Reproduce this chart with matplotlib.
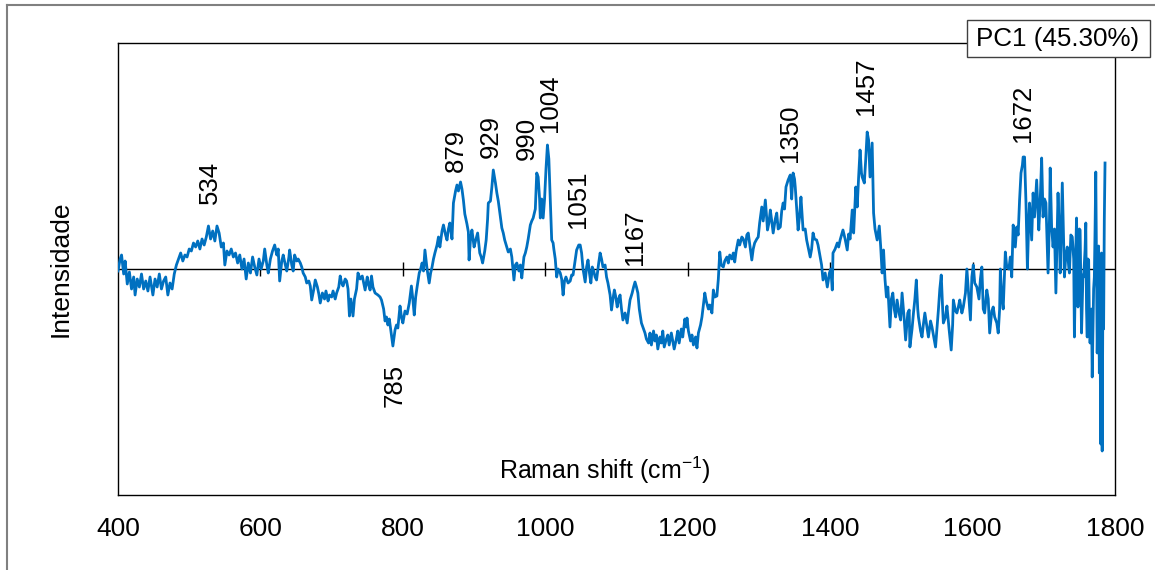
import matplotlib
matplotlib.use("Agg")
import matplotlib.pyplot as plt
from matplotlib.lines import Line2D
from matplotlib.patches import Rectangle

plt.rcParams['font.family'] = ['Liberation Sans', 'DejaVu Sans']

# Raman shift (cm-1) and PC1 loading (arbitrary units, positive up)
shift = [400,403,405,408,410,413,416,419,422,424,427,430,433,436,439,442,445,449,452,455,458,461,464,467,470,473,476,479,482,485,488,491,494,497,500,503,506,509,512,515,518,521,524,527,530,533,536,539,542,545,548,550,553,556,559,562,565,568,571,574,577,580,583,586,589,592,595,598,601,604,606,609,611,614,617,620,623,625,627,630,632,635,637,640,641,644,646,648,651,653,656,658,660,663,665,668,670,672,675,677,680,682,684,687,690,692,695,697,700,702,705,707,710,712,714,716,719,721,723,725,727,730,732,735,737,740,743,745,747,750,752,754,756,758,761,765,768,770,773,775,777,779,781,783,786,789,791,793,796,798,800,803,806,809,812,814,816,818,820,823,825,827,829,831,834,837,839,841,843,845,848,850,852,855,857,860,862,864,866,869,871,874,876,878,881,883,885,887,890,892,893,895,897,900,902,905,908,910,912,915,917,919,920,923,925,927,930,932,934,937,939,941,943,946,948,951,953,956,958,960,963,965,967,970,972,974,976,979,981,983,986,988,990,992,993,995,997,999,1001,1003,1005,1006,1008,1009,1011,1012,1014,1016,1018,1021,1023,1025,1027,1029,1032,1035,1037,1039,1041,1044,1047,1049,1051,1053,1056,1058,1060,1062,1064,1066,1068,1070,1072,1075,1077,1079,1081,1084,1086,1088,1091,1093,1095,1097,1099,1101,1103,1105,1107,1109,1112,1115,1117,1119,1122,1124,1126,1128,1130,1132,1135,1138,1140,1142,1145,1147,1149,1152,1154,1156,1158,1161,1163,1165,1167,1170,1172,1174,1177,1179,1181,1184,1186,1188,1191,1193,1196,1198,1199,1201,1204,1206,1208,1211,1213,1215,1218,1220,1222,1224,1226,1229,1231,1234,1236,1238,1241,1243,1245,1247,1250,1252,1255,1257,1259,1262,1264,1266,1268,1271,1273,1276,1278,1281,1283,1285,1288,1290,1292,1294,1297,1299,1301,1304,1306,1309,1311,1312,1314,1316,1318,1320,1323,1325,1327,1330,1332,1334,1336,1338,1341,1344,1346,1348,1350,1351,1353,1355,1357,1359,1361,1362,1365,1367,1369,1372,1374,1376,1378,1381,1383,1386,1388,1390,1393,1396,1399,1401,1403,1404,1407,1410,1412,1414,1416,1418,1421,1424,1426,1428,1431,1433,1436,1438,1440,1442,1444,1445,1448,1450,1452,1454,1456,1459,1461,1463,1466,1469,1471,1473,1475,1477,1479,1481,1484,1486,1488,1490,1492,1494,1497,1499,1501,1504,1506,1509,1511,1512,1515,1517,1519,1521,1523,1524,1527,1529,1531,1533,1536,1538,1541,1543,1546,1548,1550,1552,1554,1556,1558,1559,1562,1564,1567,1570,1572,1573,1576,1578,1580,1582,1585,1587,1590,1592,1595,1597,1599,1601,1603,1606,1609,1611,1613,1615,1617,1620,1622,1624,1627,1629,1631,1634,1636,1638,1639,1641,1643,1646,1648,1651,1653,1655,1657,1660,1662,1664,1666,1668,1670,1671,1673,1675,1677,1679,1680,1683,1685,1687,1690,1692,1693,1695,1697,1699,1701,1703,1706,1708,1709,1711,1713,1715,1717,1720,1722,1723,1726,1728,1729,1731,1733,1735,1736,1738,1740,1742,1743,1745,1746,1748,1750,1751,1753,1755,1756,1758,1759,1760,1761,1762,1763,1764,1765,1767,1768,1770,1771,1772,1773,1774,1775,1776,1777,1778,1779,1780,1781,1782,1783,1784,1785,1786]
intensity = [-2,10,14,-5,8,-15,-3,-20,-8,-26,-10,-18,-5,-20,-12,-22,-8,-26,-10,-18,-5,-20,-12,-8,-26,-14,-20,-5,4,10,16,8,14,12,20,18,26,22,28,20,30,24,32,43,30,38,28,43,36,22,26,4,18,14,20,12,16,6,14,0,10,-10,6,-4,12,2,-6,10,0,8,20,4,-4,10,18,24,14,20,-12,8,14,4,-2,12,19,4,-2,14,8,10,6,2,-4,-8,-14,-12,-17,-31,-20,-11,-18,-25,-34,-24,-30,-22,-32,-26,-28,-22,-30,-24,-18,-7,-14,-17,-10,-12,-20,-47,-30,-47,-30,-20,-4,-10,-7,-14,-21,-8,-16,-21,-7,-18,-24,-26,-28,-31,-40,-52,-48,-56,-50,-61,-77,-61,-56,-59,-37,-48,-54,-42,-45,-34,-17,-30,-46,-28,-18,-4,0,6,-2,19,0,-14,-4,2,10,16,24,32,22,38,44,34,29,40,46,30,66,78,84,78,87,80,69,55,45,37,9,30,39,22,28,36,16,12,6,18,29,50,66,68,82,99,86,76,68,52,41,36,29,22,17,20,12,-11,4,6,-2,4,-9,12,16,22,30,44,48,51,60,96,92,70,51,70,51,70,100,124,110,89,50,29,26,20,10,-8,0,-4,-10,-26,-12,-8,-14,-12,-6,-6,4,19,24,24,16,0,-13,2,9,-4,-14,2,-2,-8,-11,6,16,10,2,4,-8,-14,-26,-41,-30,-21,-28,-38,-30,-26,-40,-51,-44,-54,-42,-31,-24,-18,-13,-18,-24,-40,-54,-60,-64,-70,-74,-64,-76,-62,-72,-66,-80,-68,-74,-62,-78,-70,-66,-76,-64,-72,-80,-70,-62,-74,-60,-68,-50,-58,-49,-62,-72,-66,-76,-68,-79,-64,-56,-48,-36,-24,-32,-40,-36,-44,-21,-28,-27,-10,17,4,2,8,12,6,14,10,16,7,18,29,24,32,30,22,34,36,20,9,20,26,30,32,46,62,48,69,50,39,46,59,48,36,50,56,40,42,58,66,60,82,89,94,70,96,90,82,60,39,52,72,50,39,40,29,22,12,20,36,30,29,24,12,4,-11,-4,-18,-4,0,-21,16,20,26,22,29,34,39,30,19,35,30,59,36,82,62,92,119,96,92,86,110,137,129,92,126,56,40,29,43,22,-4,19,-10,-28,-18,-58,-30,-24,-40,-48,-31,-45,-51,-24,-50,-71,-44,-41,-78,-60,-44,-30,-11,-40,-48,-62,-68,-55,-44,-58,-68,-52,-58,-70,-78,-60,-41,-20,-6,-40,-54,-48,-37,-60,-81,-56,-31,-42,-44,-38,-31,-44,-38,-24,0,-30,-51,-8,4,-14,-18,-30,-10,2,-40,-44,-21,-30,-64,-42,-38,-48,-54,-64,-40,0,-28,-40,17,2,0,12,-8,44,22,42,34,69,96,104,112,112,66,0,50,66,29,76,52,89,56,39,69,111,52,70,66,-4,50,101,42,22,40,-24,76,30,-4,86,20,-8,14,22,2,-4,34,32,10,-68,20,51,-38,40,39,-64,-6,-8,20,46,-40,-68,10,9,-50,-74,-40,-108,-20,-8,40,97,0,-84,-40,23,-104,-60,-175,16,-182,-24,-60,50,106]

# Peak labels: text and label anchor (x in cm-1, y in data units)
peak_labels = ['534', '785', '879', '929', '990', '1004', '1051', '1167', '1350', '1457', '1672']
label_x = [529, 789, 875, 924, 974, 1007, 1046, 1126, 1344, 1450, 1671]
label_y = [65, -95, 97, 111, 109, 137, 41, 4, 107, 154, 127]

xticks = [400, 600, 800, 1000, 1200, 1400, 1600, 1800]
inner_ticks = [600, 800, 1000, 1200, 1400, 1600]

W, H = 1155, 570
fig = plt.figure(figsize=(W / 100, H / 100), dpi=100)
ax = fig.add_axes([118 / W, 75 / H, 997 / W, 452 / H])

ax.plot(shift, intensity, color='#0070C0', lw=2.0, zorder=3,
        solid_joinstyle='round')
ax.axhline(0, color='black', lw=1.0, zorder=2)
ax.vlines(inner_ticks, -7, 7, color='black', lw=1.0, zorder=2)

ax.set_xlim(400, 1800)
ax.set_ylim(-226, 226)
ax.set_xticks(xticks)
ax.tick_params(axis='x', length=0, pad=16, labelsize=19)
ax.set_yticks([])
for s in ax.spines.values():
    s.set_linewidth(1.0)
    s.set_color('black')

for t, lx, ly in zip(peak_labels, label_x, label_y):
    ax.text(lx, ly, t, rotation=90, ha='center', va='top' if ly < 0 else 'bottom',
            fontsize=18.5, zorder=4)

ax.text(0.488, 0.055, 'Raman shift (cm$^{\\mathregular{-1}}$)', transform=ax.transAxes,
        ha='center', va='center', fontsize=18)
fig.text(61 / W, 1 - 269 / H, 'Intensidade', rotation=90, ha='center', va='center',
         fontsize=19)

# legend-like box
fig.add_artist(Rectangle((967 / W, 1 - 57 / H), 183 / W, 37 / H, transform=fig.transFigure,
                         fc='white', ec='#404040', lw=1.0, zorder=10))
fig.text(1058 / W, 1 - 39 / H, 'PC1 (45.30%)', ha='center', va='center', fontsize=18.7,
         zorder=11)

fig.add_artist(Line2D([7 / W, 7 / W], [0, 1 - 5 / H], transform=fig.transFigure,
                      color='#808080', lw=1.5))
fig.add_artist(Line2D([7 / W, 1], [1 - 5 / H, 1 - 5 / H], transform=fig.transFigure,
                      color='#808080', lw=1.5))

fig.savefig('out.png', dpi=100)
